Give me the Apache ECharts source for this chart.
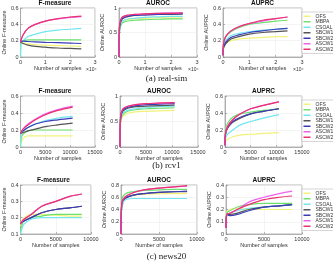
<!DOCTYPE html>
<html>
<head>
<meta charset="UTF-8">
<title>Online metrics</title>
<script src="https://cdn.jsdelivr.net/npm/echarts@6/dist/echarts.min.js"></script>
<style>
    html, body { margin: 0; padding: 0; background: #fff; }
    #main { width: 333px; height: 261px; }
</style>
</head>
<body>
<div id="main"></div>
<script>
// methods and their colours (legend order)
var methods = ['OFS', 'MBPA', 'CSOAL', 'SBCW1', 'SBCW2', 'ASCW1', 'ASCW2'];
var colors = ['#f2f27a', '#6ee06e', '#72e6f0', '#555555', '#3b3bb8', '#f060f0', '#e8336e'];

// real-sim
var xRealSim = [0, 150, 1000, 3000, 6000, 10000, 15000, 20000, 24500];
var realSimF = [
    [0.17, 0.18, 0.175, 0.16, 0.15, 0.145, 0.14, 0.135, 0.13],
    [0.0, 0.19, 0.2, 0.21, 0.21, 0.21, 0.21, 0.21, 0.21],
    [0.0, 0.17, 0.2, 0.25, 0.28, 0.31, 0.33, 0.34, 0.35],
    [0.18, 0.18, 0.165, 0.145, 0.13, 0.12, 0.11, 0.105, 0.1],
    [0.18, 0.19, 0.195, 0.19, 0.185, 0.18, 0.175, 0.17, 0.165],
    [0.18, 0.2, 0.27, 0.35, 0.4, 0.44, 0.465, 0.485, 0.495],
    [0.18, 0.2, 0.27, 0.35, 0.4, 0.44, 0.47, 0.49, 0.5]
];
var realSimAUROC = [
    [0, 0.5, 0.72, 0.76, 0.78, 0.79, 0.8, 0.8, 0.8],
    [0, 0.45, 0.68, 0.73, 0.75, 0.76, 0.77, 0.78, 0.78],
    [0, 0.5, 0.72, 0.77, 0.79, 0.81, 0.82, 0.83, 0.83],
    [0, 0.55, 0.76, 0.82, 0.85, 0.86, 0.87, 0.87, 0.88],
    [0, 0.55, 0.77, 0.83, 0.85, 0.86, 0.87, 0.88, 0.88],
    [0, 0.6, 0.8, 0.85, 0.87, 0.88, 0.89, 0.9, 0.9],
    [0, 0.6, 0.8, 0.85, 0.87, 0.88, 0.89, 0.89, 0.9]
];
var realSimAUPRC = [
    [0.02, 0.1, 0.16, 0.2, 0.22, 0.23, 0.24, 0.25, 0.25],
    [0.02, 0.14, 0.24, 0.31, 0.36, 0.4, 0.42, 0.44, 0.45],
    [0.02, 0.12, 0.2, 0.26, 0.29, 0.31, 0.33, 0.34, 0.35],
    [0.02, 0.1, 0.16, 0.22, 0.25, 0.28, 0.3, 0.31, 0.32],
    [0.02, 0.11, 0.18, 0.24, 0.27, 0.3, 0.32, 0.34, 0.35],
    [0.02, 0.15, 0.25, 0.32, 0.37, 0.41, 0.44, 0.47, 0.49],
    [0.02, 0.15, 0.25, 0.32, 0.37, 0.41, 0.45, 0.47, 0.49]
];

// rcv1
var xRcv1 = [0, 100, 500, 1500, 3000, 5000, 7500, 10500];
var rcv1F = [
    [0.0, 0.05, 0.1, 0.13, 0.13, 0.13, 0.13, 0.13],
    [0.0, 0.1, 0.15, 0.19, 0.2, 0.2, 0.2, 0.2],
    [0.0, 0.15, 0.18, 0.23, 0.27, 0.31, 0.34, 0.36],
    [0.16, 0.16, 0.17, 0.19, 0.21, 0.24, 0.26, 0.28],
    [0.16, 0.17, 0.19, 0.23, 0.27, 0.3, 0.32, 0.34],
    [0.16, 0.17, 0.21, 0.27, 0.33, 0.39, 0.44, 0.48],
    [0.16, 0.17, 0.21, 0.26, 0.32, 0.38, 0.43, 0.47]
];
var rcv1AUROC = [
    [0, 0.45, 0.6, 0.66, 0.69, 0.7, 0.71, 0.72],
    [0, 0.5, 0.63, 0.7, 0.73, 0.75, 0.76, 0.77],
    [0, 0.5, 0.66, 0.72, 0.75, 0.77, 0.79, 0.8],
    [0, 0.55, 0.7, 0.76, 0.79, 0.8, 0.81, 0.82],
    [0, 0.55, 0.72, 0.78, 0.81, 0.83, 0.84, 0.85],
    [0, 0.58, 0.74, 0.8, 0.83, 0.85, 0.86, 0.87],
    [0, 0.58, 0.74, 0.8, 0.83, 0.85, 0.86, 0.87]
];
var rcv1AUPRC = [
    [0.02, 0.06, 0.09, 0.12, 0.14, 0.15, 0.16, 0.17],
    [0.02, 0.2, 0.28, 0.35, 0.39, 0.41, 0.43, 0.45],
    [0.02, 0.1, 0.15, 0.2, 0.26, 0.3, 0.34, 0.38],
    [0.02, 0.15, 0.22, 0.29, 0.34, 0.39, 0.42, 0.45],
    [0.02, 0.15, 0.23, 0.3, 0.35, 0.39, 0.42, 0.45],
    [0.02, 0.16, 0.24, 0.32, 0.39, 0.45, 0.49, 0.53],
    [0.02, 0.16, 0.24, 0.32, 0.39, 0.45, 0.49, 0.53]
];

// news20
var xNews20 = [0, 100, 500, 1500, 3000, 5000, 7000, 8700];
var news20F = [
    [0.15, 0.17, 0.2, 0.22, 0.22, 0.215, 0.21, 0.21],
    [0.1, 0.14, 0.18, 0.2, 0.21, 0.22, 0.22, 0.22],
    [0.1, 0.12, 0.16, 0.19, 0.2, 0.2, 0.2, 0.2],
    [0.16, 0.17, 0.18, 0.2, 0.23, 0.25, 0.26, 0.27],
    [0.16, 0.17, 0.18, 0.2, 0.23, 0.25, 0.26, 0.27],
    [0.16, 0.17, 0.19, 0.22, 0.27, 0.3, 0.33, 0.345],
    [0.16, 0.17, 0.19, 0.22, 0.27, 0.3, 0.33, 0.345]
];
var news20AUROC = [
    [0, 0.45, 0.6, 0.63, 0.65, 0.66, 0.66, 0.66],
    [0, 0.55, 0.65, 0.69, 0.71, 0.72, 0.73, 0.73],
    [0, 0.4, 0.55, 0.58, 0.58, 0.58, 0.58, 0.58],
    [0, 0.5, 0.58, 0.63, 0.66, 0.68, 0.69, 0.69],
    [0, 0.5, 0.58, 0.63, 0.66, 0.68, 0.69, 0.7],
    [0, 0.5, 0.6, 0.67, 0.72, 0.75, 0.77, 0.78],
    [0, 0.5, 0.6, 0.67, 0.72, 0.75, 0.77, 0.79]
];
var news20AUPRC = [
    [0.05, 0.18, 0.2, 0.21, 0.2, 0.2, 0.2, 0.2],
    [0.05, 0.17, 0.19, 0.22, 0.24, 0.25, 0.25, 0.25],
    [0.05, 0.15, 0.17, 0.19, 0.21, 0.22, 0.23, 0.24],
    [0.05, 0.16, 0.16, 0.17, 0.2, 0.22, 0.23, 0.24],
    [0.05, 0.16, 0.15, 0.16, 0.19, 0.22, 0.23, 0.24],
    [0.05, 0.16, 0.17, 0.2, 0.26, 0.3, 0.33, 0.35],
    [0.05, 0.16, 0.17, 0.2, 0.24, 0.28, 0.3, 0.31]
];

var captions = ['(a) real-sim', '(b) rcv1', '(c) news20'];
var titles = ['F-measure', 'AUROC', 'AUPRC'];
var yNames = ['Online F-measure', 'Online AUROC', 'Online AUPRC'];

// one entry per subplot: data + axis range + box
var panels = [
    { x: xRealSim, v: realSimF,     xMax: 30000, xInt: 10000, yMin: 0, yMax: 0.6, yInt: 0.2, box: [15, 8, 80, 49] },
    { x: xRealSim, v: realSimAUROC, xMax: 30000, xInt: 10000, yMin: 0, yMax: 1,   yInt: 0.5, box: [119, 8, 78, 49] },
    { x: xRealSim, v: realSimAUPRC, xMax: 30000, xInt: 10000, yMin: 0, yMax: 0.6, yInt: 0.2, box: [223, 8, 79, 49] },
    { x: xRcv1, v: rcv1F,     xMax: 15000, xInt: 5000, yMin: 0, yMax: 0.6, yInt: 0.2, box: [15, 96, 80, 51] },
    { x: xRcv1, v: rcv1AUROC, xMax: 15000, xInt: 5000, yMin: 0, yMax: 1,   yInt: 0.5, box: [120, 96, 78, 51] },
    { x: xRcv1, v: rcv1AUPRC, xMax: 15000, xInt: 5000, yMin: 0, yMax: 0.6, yInt: 0.2, box: [225, 96, 77, 51] },
    { x: xNews20, v: news20F,     xMax: 10000, xInt: 5000, yMin: 0.1, yMax: 0.4, yInt: 0.1, box: [16, 185, 75, 49] },
    { x: xNews20, v: news20AUROC, xMax: 10000, xInt: 5000, yMin: 0, yMax: 0.8, yInt: 0.2, box: [121, 185, 76, 49] },
    { x: xNews20, v: news20AUPRC, xMax: 10000, xInt: 5000, yMin: 0, yMax: 0.4, yInt: 0.1, box: [226, 185, 76, 49] }
];

var font = 'Liberation Sans';
var grid = [], xAxis = [], yAxis = [], series = [], title = [], graphic = [], legend = [];

panels.forEach(function (p, i) {
    var col = i % 3, row = Math.floor(i / 3);
    var b = p.box;
    grid.push({ left: b[0], top: b[1], width: b[2], height: b[3], show: true, borderColor: '#8a8a8a', borderWidth: 0.6, backgroundColor: '#fff' });
    xAxis.push({
        gridIndex: i, type: 'value', min: 0, max: p.xMax, interval: p.xInt,
        name: 'Number of samples', nameLocation: 'middle', nameGap: 8,
        nameTextStyle: { fontSize: 5.5, color: '#333', fontFamily: font },
        axisLine: { lineStyle: { color: '#8a8a8a', width: 0.6 } },
        axisTick: { inside: true, length: 2, lineStyle: { color: '#8a8a8a', width: 0.6 } },
        axisLabel: {
            fontSize: 5.5, color: '#333', fontFamily: font, margin: 2,
            formatter: row === 0 ? function (v) { return v / 10000; } : function (v) { return v; }
        },
        splitLine: { show: true, lineStyle: { color: '#ececec', width: 0.6 } }
    });
    yAxis.push({
        gridIndex: i, type: 'value', min: p.yMin, max: p.yMax, interval: p.yInt,
        name: yNames[col], nameLocation: 'middle', nameGap: 11, nameRotate: 90,
        nameTextStyle: { fontSize: 5.5, color: '#333', fontFamily: font },
        axisLine: { lineStyle: { color: '#8a8a8a', width: 0.6 } },
        axisTick: { inside: true, length: 2, lineStyle: { color: '#8a8a8a', width: 0.6 } },
        axisLabel: { fontSize: 5.5, color: '#333', fontFamily: font, margin: 2 },
        splitLine: { show: true, lineStyle: { color: '#ececec', width: 0.6 } }
    });
    title.push({
        text: titles[col], left: b[0] + b[2] / 2, top: b[1] - 8, textAlign: 'center',
        padding: 0,
        textStyle: { fontSize: 6.5, fontWeight: 'bold', color: '#111', fontFamily: font }
    });
    if (row === 0) {
        graphic.push({
            type: 'text', left: b[0] + b[2] - 9, top: b[1] + b[3] + 10,
            style: { text: '\u00d710\u2074', fontSize: 5, fill: '#333', fontFamily: font }
        });
    }
    methods.forEach(function (m, j) {
        series.push({
            type: 'line', name: m, xAxisIndex: i, yAxisIndex: i,
            data: p.x.map(function (x, k) { return [x, p.v[j][k]]; }),
            showSymbol: false, smooth: 0.35,
            lineStyle: { width: 1.2, color: colors[j] },
            itemStyle: { color: colors[j] }
        });
    });
});

[8, 96, 185].forEach(function (t, r) {
    legend.push({
        data: methods, orient: 'vertical', left: 302, top: t + 4,
        icon: 'rect', itemWidth: 7, itemHeight: 1.5, itemGap: 0,
        padding: [1.5, 1, 1.5, 1.5], borderColor: '#bbb', borderWidth: 0.6, backgroundColor: '#fff',
        textStyle: { fontSize: 5, lineHeight: 5.5, color: '#333', fontFamily: font }
    });
    graphic.push({
        type: 'text', left: 'center', top: [74, 161, 252][r],
        style: { text: captions[r], fontSize: 9, fill: '#222', fontFamily: 'Liberation Serif' }
    });
});

var chart = echarts.init(document.getElementById('main'), null, { renderer: 'canvas' });
chart.setOption({
    animation: false,
    backgroundColor: '#fff',
    title: title,
    legend: legend,
    grid: grid,
    xAxis: xAxis,
    yAxis: yAxis,
    graphic: graphic,
    series: series
});
</script>
</body>
</html>
